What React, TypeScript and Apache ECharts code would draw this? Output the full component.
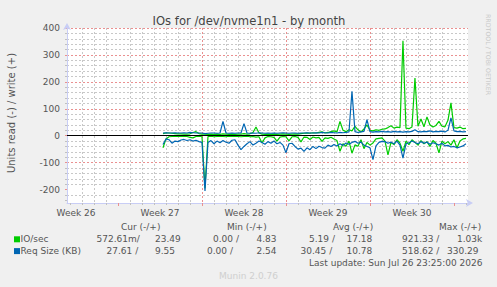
import React, { useEffect, useRef } from "react";
import * as echarts from "echarts";

// ---------- text ----------
const TITLE = "IOs for /dev/nvme1n1 - by month";
const Y_NAME = "Units read (-) / write (+)";
const SIDE_TEXT = "RRDTOOL / TOBI OETIKER";
const FOOTER = "Munin 2.0.76";
const LAST_UPDATE = "Last update: Sun Jul 26 23:25:00 2026";

// ---------- axes (x in days, 0 = Monday of week 27) ----------
const X_MIN = -4.25;
const X_MAX = 29.17;
const WEEK_LABELS = ["Week 26", "Week 27", "Week 28", "Week 29", "Week 30"];
const WEEK_CENTERS = [-3.5, 3.5, 10.5, 17.5, 24.5];
const WEEK_STARTS = [0, 7, 14, 21, 28];
const DAY_TICKS = [-4, -3, -2, -1, 1, 2, 3, 4, 5, 6, 8, 9, 10, 11, 12, 13, 15, 16, 17, 18, 19, 20, 22, 23, 24, 25, 26, 27, 29];
const Y_MIN = -250;
const Y_MAX = 400;
const Y_MAJOR = [-200, -100, 0, 100, 200, 300, 400];
const Y_MINOR = [-240, -220, -180, -160, -140, -120, -80, -60, -40, -20, 20, 40, 60, 80, 120, 140, 160, 180, 220, 240, 260, 280, 320, 340, 360, 380];

// ---------- data (samples every 6 hours, starting at day 3.75) ----------
const START_DAY = 3.75;
const STEP_DAY = 0.25;

// IO/sec write (+)
const IOS_WRITE = [
  8, 10, 10, 9, 8, 7, 7, 6, 6, 7, 12, 15, 8, 6,
  6,
  5, 6, 5, 6, 5, 7, 6, 5, 6, 5, 6, 6,
  8, 6, 7, 12, 32, 10, 6, 5, 6, 5, 6, 5, 6, 7, 6, 5, 6, 7, 6,
  8, 9, 10, 9, 11, 10, 12, 14, 10, 12, 15, 18, 14,
  53, 20, 15, 22, 18, 35, 22, 14, 25, 40, 20, 18, 22, 20, 24,
  25, 30, 37, 28, 32, 30, 353, 28, 26, 32, 214, 35, 62, 33, 70, 40, 32, 38, 53, 35, 33, 57, 122, 30, 28, 32, 26, 27,
];
// IO/sec read (-), stored as magnitudes
const IOS_READ = [
  45, 12, 4, 3, 3, 2, 3, 2, 3, 6, 8, 3, 2, 4,
  195,
  3, 2, 4, 3, 2, 3, 4, 2, 3, 2, 3, 4,
  3, 2, 4, 3, 5, 4, 27, 8, 3, 4, 6, 20, 5, 3, 4, 19, 4, 3, 6,
  23, 5, 6, 14, 5, 8, 6, 21, 8, 10, 6, 12, 18,
  58, 30, 39, 20, 65, 34, 39, 15, 48, 25, 35, 27, 12, 10, 8,
  20, 71, 25, 33, 15, 28, 58, 20, 33, 15, 25, 35, 18, 30, 22, 40, 18, 28, 64, 20, 30, 22, 35, 15, 46, 20, 12, 10,
];
// Req Size (KB) write (+)
const REQ_WRITE = [
  10, 11, 10, 10, 11, 10, 10, 11, 10, 12, 11, 10, 10, 10,
  8,
  9, 10, 10, 9, 10, 53, 10, 9, 10, 9, 10, 10,
  45, 10, 9, 10, 9, 11, 10, 9, 10, 9, 10, 9, 10, 11, 10, 9, 10, 10, 9,
  10, 10, 11, 10, 10, 11, 10, 12, 11, 10, 12, 11, 10,
  12, 11, 12, 14, 165, 15, 12, 14, 16, 60, 15, 13, 15, 14, 16,
  14, 15, 13, 16, 14, 15, 13, 15, 14, 16, 22, 15, 14, 16, 15, 18, 14, 16, 15, 17, 14, 20, 66, 18, 15, 16, 14, 15,
];
// Req Size (KB) read (-), stored as magnitudes
const REQ_READ = [
  33, 12, 15, 28, 20, 22, 16, 14, 18, 15, 20, 17, 22, 25,
  205,
  25, 18, 30, 20, 26, 18, 24, 28, 17, 15, 35, 52,
  40, 30, 22, 35, 28, 20, 25, 32, 22, 28, 20, 30, 25, 35, 63, 30, 28, 40, 50,
  46, 58, 45, 52, 40, 48, 39, 44, 46, 35, 40, 33, 38,
  30, 36, 27, 32, 25, 21, 28, 24, 35, 40, 45, 89, 38, 25, 21,
  22, 28, 24, 30, 20, 35, 83, 30, 26, 20, 25, 30, 22, 28, 24, 32, 26, 30, 35, 28, 38, 36, 42, 40, 45, 42, 38, 30,
];

// ---------- legend ----------
const LEGEND_HEADERS = ["Cur (-/+)", "Min (-/+)", "Avg (-/+)", "Max (-/+)"];
const LEGEND_HEADER_X = [121, 227, 333, 439];
const LEGEND_ROWS = [
  { label: "IO/sec", color: "#00CC00", cells: ["572.61m/", "23.49", "0.00 /", "4.83", "5.19 /", "17.18", "921.33 /", "1.03k"], xs: [96.5, 155, 213, 256.5, 309, 346.5, 402, 457] },
  { label: "Req Size (KB)", color: "#0066B3", cells: ["27.61 /", "9.55", "0.00 /", "2.54", "30.45 /", "10.78", "518.62 /", "330.29"], xs: [106.5, 155, 207, 256.5, 300.5, 346.5, 402, 447] },
];

const GREEN = "#00CC00";
const BLUE = "#0066B3";
const FONT = "DejaVu Sans";
const TEXT = "#555555";
const MINOR = "#C8C8C8";
const MAJOR = "#EA9090";
const AXIS = "#C8CDF5";
const DASH = [2, 2];

const toPoints = (vals: number[], sign: number) =>
  vals.map((v, i) => [START_DAY + i * STEP_DAY, sign * v]);

function txt(x: number, y: number, text: string, extra: any = {}) {
  return {
    type: "text",
    x,
    y,
    silent: true,
    style: {
      text,
      fill: TEXT,
      fontSize: 9,
      fontFamily: FONT,
      textAlign: "left",
      textVerticalAlign: "middle",
      ...extra,
    },
  };
}

export default function App() {
  const ref = useRef<HTMLDivElement>(null);

  useEffect(() => {
    if (!ref.current) return;
    const chart = echarts.init(ref.current, null, { renderer: "svg" });

    const graphics: any[] = [];
    graphics.push(txt(249, 20.5, TITLE, { fontSize: 11.6, textAlign: "center", fill: "#444" }));
    graphics.push({ ...txt(11, 113, Y_NAME, { fontSize: 10, textAlign: "center" }), rotation: Math.PI / 2 });
    graphics.push({ ...txt(488, 54.5, SIDE_TEXT, { fontSize: 6.3, textAlign: "center", fill: "#C8C8C8" }), rotation: -Math.PI / 2 });
    LEGEND_HEADERS.forEach((h, i) => graphics.push(txt(LEGEND_HEADER_X[i], 226.7, h)));
    LEGEND_ROWS.forEach((row, r) => {
      const y = 239.3 + r * 11.8;
      graphics.push({ type: "rect", silent: true, shape: { x: 14, y: y - 3, width: 6, height: 6 }, style: { fill: row.color } });
      graphics.push(txt(20.5, y, row.label));
      row.cells.forEach((c, i) => graphics.push(txt(row.xs[i], y, c)));
    });
    graphics.push(txt(482.5, 262.7, LAST_UPDATE, { textAlign: "right" }));
    graphics.push(txt(248.5, 275.5, FOOTER, { textAlign: "center", fill: "#CFCFCF" }));

    const lineSeries = (name: string, data: number[][], color: string, extra: any = {}) => ({
      type: "line",
      name,
      data,
      showSymbol: false,
      symbol: "none",
      color,
      lineStyle: { color, width: 1.2 },
      emphasis: { disabled: true },
      xAxisIndex: 0,
      yAxisIndex: 0,
      ...extra,
    });

    chart.setOption({
      animation: false,
      backgroundColor: "#F0F0F0",
      grid: {
        left: 67,
        top: 28,
        right: 29,
        bottom: 84,
        show: true,
        backgroundColor: "#FFFFFF",
        borderWidth: 0,
        containLabel: false,
        outerBoundsMode: "none",
      },
      xAxis: [
        {
          type: "value",
          position: "bottom",
          min: X_MIN,
          max: X_MAX,
          axisLine: { show: true, onZero: false, lineStyle: { color: AXIS, width: 1 }, symbol: ["none", "arrow"], symbolSize: [6, 7], symbolOffset: [0, 5] },
          axisTick: { show: true, length: 2, customValues: DAY_TICKS, lineStyle: { color: "#C0C0C0" } },
          axisLabel: { show: false },
          splitLine: { show: true, showMinLine: false, showMaxLine: false, lineStyle: { color: MINOR, width: 1, type: DASH } },
        },
        {
          type: "value",
          position: "bottom",
          min: X_MIN,
          max: X_MAX,
          axisLine: { show: false, onZero: false },
          axisTick: { show: true, length: 3, customValues: WEEK_STARTS, lineStyle: { color: MAJOR } },
          axisLabel: {
            show: true,
            customValues: WEEK_CENTERS,
            formatter: (v: number) => {
              const i = WEEK_CENTERS.findIndex((c) => Math.abs(c - v) < 0.01);
              return i >= 0 ? WEEK_LABELS[i] : "";
            },
            color: TEXT,
            fontSize: 9,
            fontFamily: FONT,
            margin: 5,
          },
          splitLine: { show: true, showMinLine: false, showMaxLine: false, lineStyle: { color: MAJOR, width: 1, type: DASH } },
        },
      ],
      yAxis: [
        {
          type: "value",
          position: "left",
          min: Y_MIN,
          max: Y_MAX,
          axisLine: { show: true, onZero: false, lineStyle: { color: AXIS, width: 1 }, symbol: ["none", "arrow"], symbolSize: [6, 7], symbolOffset: [0, 5] },
          axisTick: { show: true, length: 2, customValues: Y_MAJOR, lineStyle: { color: MAJOR } },
          axisLabel: {
            show: true,
            customValues: Y_MAJOR,
            color: TEXT,
            fontSize: 9,
            fontFamily: FONT,
            margin: 7,
          },
          splitLine: { show: true, showMinLine: false, lineStyle: { color: MAJOR, width: 1, type: DASH } },
        },
        {
          type: "value",
          position: "left",
          min: Y_MIN,
          max: Y_MAX,
          axisLine: { show: false, onZero: false },
          axisTick: { show: true, length: 2, customValues: Y_MINOR, lineStyle: { color: "#C0C0C0" } },
          axisLabel: { show: false },
          splitLine: { show: true, showMinLine: false, lineStyle: { color: MINOR, width: 1, type: DASH } },
        },
      ],
      series: [
        lineSeries("IO/sec read", toPoints(IOS_READ, -1), GREEN),
        lineSeries("IO/sec write", toPoints(IOS_WRITE, 1), GREEN),
        lineSeries("Req Size (KB) read", toPoints(REQ_READ, -1), BLUE),
        lineSeries("Req Size (KB) write", toPoints(REQ_WRITE, 1), BLUE, {
          markLine: {
            silent: true,
            symbol: ["none", "none"],
            label: { show: false },
            lineStyle: { color: "#000000", width: 1, type: "solid" },
            emphasis: { disabled: true },
            data: [{ yAxis: 0 }],
          },
        }),
      ],
      graphic: graphics,
    });

    return () => chart.dispose();
  }, []);

  return (
    <div
      ref={ref}
      style={{ position: "fixed", left: 0, top: 0, width: 497, height: 287 }}
    />
  );
}
